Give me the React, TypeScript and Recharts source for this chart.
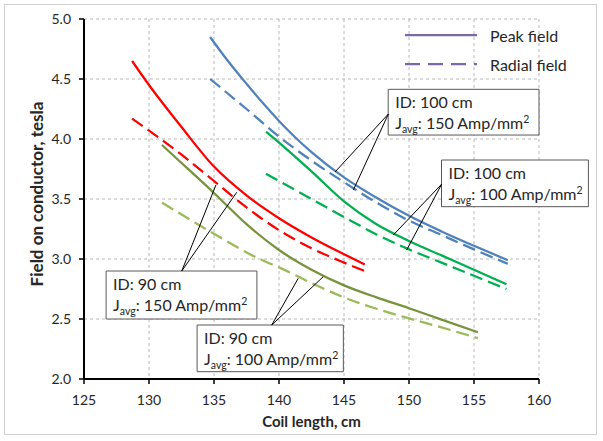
import React from 'react';
import { LineChart, Line, XAxis, YAxis, CartesianGrid, ReferenceArea, ReferenceLine } from 'recharts';

const FONT = 'Lato, "Open Sans", "DejaVu Sans", sans-serif';
const TEXT = '#262626';

const xTicks = [125, 130, 135, 140, 145, 150, 155, 160];
const yTicks = [2.0, 2.5, 3.0, 3.5, 4.0, 4.5, 5.0];

// ID 100 cm, J 150 A/mm2
const id100j150Peak = [
  { x: 134.7, y: 4.85 }, { x: 136, y: 4.66 }, { x: 137.5, y: 4.46 }, { x: 139, y: 4.27 },
  { x: 140, y: 4.15 }, { x: 141, y: 4.04 }, { x: 142.5, y: 3.89 }, { x: 145, y: 3.68 },
  { x: 147.5, y: 3.51 }, { x: 150, y: 3.36 }, { x: 152.5, y: 3.23 }, { x: 155, y: 3.11 },
  { x: 157.6, y: 2.99 },
];
const id100j150Radial = [
  { x: 134.7, y: 4.5 }, { x: 137.5, y: 4.25 }, { x: 140, y: 4.02 }, { x: 142.5, y: 3.82 },
  { x: 145, y: 3.64 }, { x: 147.5, y: 3.47 }, { x: 150, y: 3.32 }, { x: 152.5, y: 3.2 },
  { x: 155, y: 3.08 }, { x: 157.6, y: 2.96 },
];
// ID 100 cm, J 100 A/mm2
const id100j100Peak = [
  { x: 139, y: 4.06 }, { x: 140, y: 3.97 }, { x: 142.5, y: 3.73 }, { x: 145, y: 3.48 },
  { x: 147.5, y: 3.29 }, { x: 150, y: 3.15 }, { x: 152.5, y: 3.03 }, { x: 155, y: 2.91 },
  { x: 157.5, y: 2.79 },
];
const id100j100Radial = [
  { x: 139, y: 3.71 }, { x: 140, y: 3.65 }, { x: 142.5, y: 3.5 }, { x: 145, y: 3.35 },
  { x: 147.5, y: 3.205 }, { x: 150, y: 3.08 }, { x: 152.5, y: 2.97 }, { x: 155, y: 2.86 },
  { x: 157.5, y: 2.75 },
];
// ID 90 cm, J 150 A/mm2
const id90j150Peak = [
  { x: 128.7, y: 4.65 }, { x: 130, y: 4.45 }, { x: 132.5, y: 4.1 }, { x: 135, y: 3.77 },
  { x: 137.5, y: 3.53 }, { x: 140, y: 3.34 }, { x: 142.5, y: 3.18 }, { x: 145, y: 3.04 },
  { x: 146.6, y: 2.955 },
];
const id90j150Radial = [
  { x: 128.7, y: 4.17 }, { x: 130, y: 4.07 }, { x: 132.5, y: 3.87 }, { x: 135, y: 3.65 },
  { x: 137.5, y: 3.43 }, { x: 140, y: 3.24 }, { x: 142.5, y: 3.09 }, { x: 145, y: 2.97 },
  { x: 146.6, y: 2.9 },
];
// ID 90 cm, J 100 A/mm2
const id90j100Peak = [
  { x: 131, y: 3.95 }, { x: 132, y: 3.85 }, { x: 135, y: 3.55 }, { x: 137.5, y: 3.29 },
  { x: 140, y: 3.075 }, { x: 142.5, y: 2.91 }, { x: 145, y: 2.78 }, { x: 147.5, y: 2.68 },
  { x: 150, y: 2.59 }, { x: 152.5, y: 2.495 }, { x: 155.3, y: 2.39 },
];
const id90j100Radial = [
  { x: 131, y: 3.47 }, { x: 135, y: 3.21 }, { x: 138.5, y: 3.0 }, { x: 140, y: 2.93 },
  { x: 142.5, y: 2.8 }, { x: 145, y: 2.68 }, { x: 147.5, y: 2.585 }, { x: 150, y: 2.505 },
  { x: 152.5, y: 2.43 }, { x: 155.3, y: 2.34 },
];

const series = [
  { key: 'a', data: id100j150Peak, color: '#4F81BD', dashed: false },
  { key: 'b', data: id100j150Radial, color: '#4F81BD', dashed: true },
  { key: 'c', data: id100j100Peak, color: '#00B050', dashed: false },
  { key: 'd', data: id100j100Radial, color: '#00B050', dashed: true },
  { key: 'e', data: id90j150Peak, color: '#FF0000', dashed: false },
  { key: 'f', data: id90j150Radial, color: '#FF0000', dashed: true },
  { key: 'g', data: id90j100Peak, color: '#77933C', dashed: false },
  { key: 'h', data: id90j100Radial, color: '#9BBB59', dashed: true },
];

// Annotation boxes (data coordinates) and their callout lines
const boxes = [
  { id: 'ID: 100 cm', j: '150', x1: 148.4, x2: 160.0, y1: 4.033, y2: 4.414 },
  { id: 'ID: 100 cm', j: '100', x1: 152.5, x2: 163.8, y1: 3.436, y2: 3.825 },
  { id: 'ID: 90 cm', j: '150', x1: 126.7, x2: 138.3, y1: 2.5, y2: 2.9 },
  { id: 'ID: 90 cm', j: '100', x1: 133.7, x2: 144.95, y1: 2.061, y2: 2.45 },
];
const callouts = [
  [{ x: 148.41, y: 4.208 }, { x: 144.31, y: 3.725 }],
  [{ x: 148.41, y: 4.208 }, { x: 145.72, y: 3.575 }],
  [{ x: 152.52, y: 3.625 }, { x: 148.79, y: 3.2 }],
  [{ x: 152.52, y: 3.625 }, { x: 149.82, y: 3.075 }],
  [{ x: 132.52, y: 2.9 }, { x: 135.15, y: 3.617 }],
  [{ x: 132.52, y: 2.9 }, { x: 136.75, y: 3.556 }],
  [{ x: 139.44, y: 2.45 }, { x: 141.48, y: 2.839 }],
  [{ x: 139.44, y: 2.45 }, { x: 143.41, y: 2.853 }],
];

const BoxText = (props: any) => {
  const vb = props.viewBox || { x: 0, y: 0 };
  const x = vb.x + 7;
  const y = vb.y;
  return (
    <g style={{ fontFamily: FONT }}>
      <text x={x} y={y + 19} fontSize={16} fill={TEXT}>{props.idText}</text>
      <text x={x} y={y + 40} fontSize={16} fill={TEXT}>
        J<tspan fontSize={10.5} dy={4}>avg</tspan>
        <tspan dy={-4}>{`: ${props.jText} Amp/mm`}</tspan>
        <tspan fontSize={10.5} dy={-6}>2</tspan>
      </text>
    </g>
  );
};

const YTitle = (props: any) => {
  const vb = props.viewBox || { x: 0, y: 19, width: 84, height: 360 };
  const cx = vb.x + 36;
  const cy = vb.y + vb.height / 2 - 5;
  return (
    <text x={cx} y={cy} transform={`rotate(-90, ${cx}, ${cy})`} textAnchor="middle" dominantBaseline="central"
      fontSize={17} fontWeight="bold" fill={TEXT} style={{ fontFamily: FONT }}>
      Field on conductor, tesla
    </text>
  );
};

const XTitle = (props: any) => {
  const vb = props.viewBox || { x: 84, y: 379, width: 455, height: 30 };
  const cx = vb.x + vb.width / 2;
  const cy = vb.y + 42;
  return (
    <text x={cx} y={cy} textAnchor="middle" dominantBaseline="central"
      fontSize={15} fontWeight="bold" fill={TEXT} style={{ fontFamily: FONT }}>
      Coil length, cm
    </text>
  );
};

export default function App() {
  return (
    <div style={{ position: 'absolute', left: 0, top: 0, width: 603, height: 441, background: '#fff' }}>
      <div style={{ position: 'absolute', left: 4, top: 4, width: 593, height: 431, border: '1px solid #D0D0D0', boxSizing: 'border-box' }} />
      <div style={{ position: 'absolute', left: 0, top: 0 }}>
        <LineChart width={603} height={441} margin={{ top: 19, right: 64, bottom: 32, left: 0 }}>
          <CartesianGrid stroke="#B8B8B8" strokeDasharray="3 3" />
          <XAxis type="number" dataKey="x" domain={[125, 160]} ticks={xTicks} allowDataOverflow
            height={30} tickSize={5} tickMargin={11}
            axisLine={{ stroke: '#000', strokeWidth: 2 }} tickLine={{ stroke: '#000', strokeWidth: 1.5 }}
            tick={{ fontSize: 14, fill: TEXT, fontFamily: FONT }}
            label={<XTitle />} />
          <YAxis type="number" dataKey="y" domain={[2, 5]} ticks={yTicks} allowDataOverflow
            width={84} tickSize={5} tickMargin={8}
            tickFormatter={(v: number) => v.toFixed(1)}
            axisLine={{ stroke: '#000', strokeWidth: 2 }} tickLine={{ stroke: '#000', strokeWidth: 1.5 }}
            tick={{ fontSize: 14, fill: TEXT, fontFamily: FONT }}
            label={<YTitle />} />
          {series.map((s) => (
            <Line key={s.key} data={s.data} dataKey="y" type="monotone" stroke={s.color}
              strokeWidth={2.25} strokeDasharray={s.dashed ? '13 6' : undefined}
              dot={false} activeDot={false} isAnimationActive={false} />
          ))}
          {callouts.map((seg, i) => (
            <ReferenceLine key={`c${i}`} segment={seg} stroke="#000" strokeWidth={1} ifOverflow="visible" />
          ))}
          {boxes.map((b, i) => (
            <ReferenceArea key={`b${i}`} x1={b.x1} x2={b.x2} y1={b.y1} y2={b.y2} ifOverflow="visible"
              fill="#fff" fillOpacity={1} stroke="#595959" strokeWidth={1}
              label={<BoxText idText={b.id} jText={b.j} />} />
          ))}
        </LineChart>
      </div>
      <svg style={{ position: 'absolute', left: 390, top: 20 }} width={200} height={60}>
        <line x1={15} y1={15} x2={87} y2={15} stroke="#7B68A6" strokeWidth={2.25} />
        <line x1={15} y1={44} x2={87} y2={44} stroke="#7B68A6" strokeWidth={2.25} strokeDasharray="15 8" />
        <text x={100} y={15} dominantBaseline="central" fontSize={16} fill={TEXT} style={{ fontFamily: FONT }}>Peak field</text>
        <text x={100} y={44} dominantBaseline="central" fontSize={16} fill={TEXT} style={{ fontFamily: FONT }}>Radial field</text>
      </svg>
    </div>
  );
}
